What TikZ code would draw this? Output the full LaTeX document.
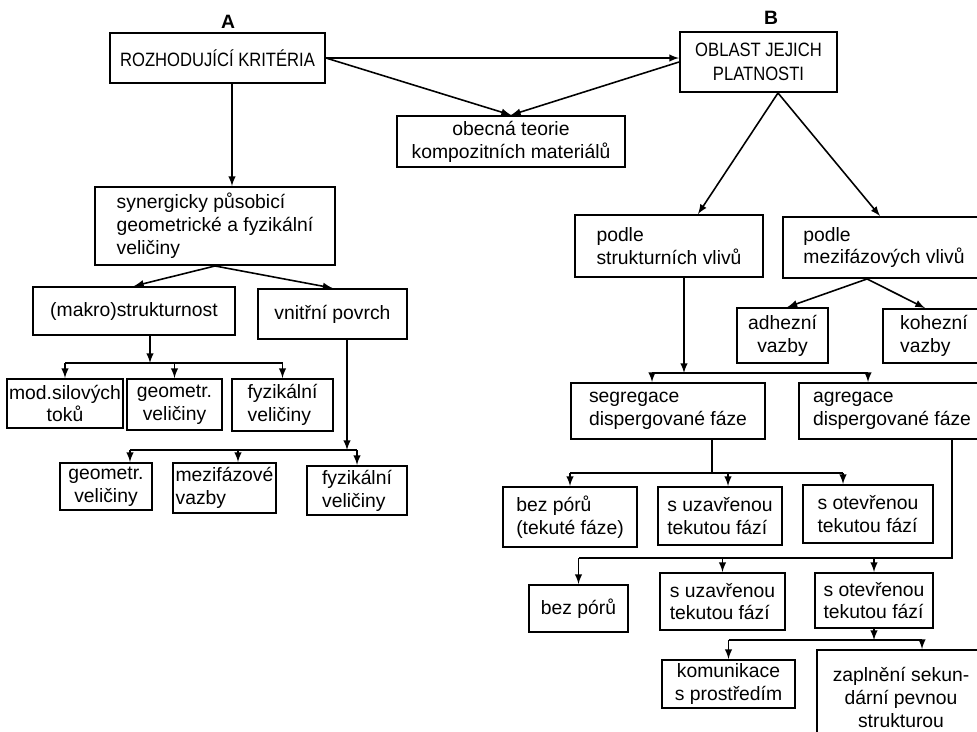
\documentclass[tikz,border=0pt]{standalone}
\usepackage{fontspec}
\setmainfont{Liberation Sans}
\newfontfamily\narrowcaps{Liberation Sans}[FakeStretch=0.86]
\usetikzlibrary{arrows}

\begin{document}
\begin{tikzpicture}[
		x=0.02cm, y=-0.02cm,
		>=latex,
		line width=0.9pt,
		every node/.style={font=\fontsize{11}{13}\selectfont},
		box/.style 2 args={draw, line width=1.1pt, minimum width=#1*0.02cm, minimum height=#2*0.02cm, inner sep=1pt},
		caps/.style={font=\fontsize{11}{14}\narrowcaps},
		head/.style={font=\fontsize{11}{13}\selectfont\bfseries},
		lft/.style={align=left},
		ctr/.style={align=center},
		arr/.style={->}
		]

	\useasboundingbox (0,0) rectangle (977,731);
	\clip (0,0) rectangle (977,731);

	% Headings
	\node[head] (labA) at (228,22) {A};
	\node[head] (labB) at (771,18) {B};

	% Top row
	\node[box={215}{50}, caps] (roz) at (217.5,58) {ROZHODUJÍCÍ KRITÉRIA};
	\node[box={157}{60}, caps, ctr] (obl) at (758.5,62) {OBLAST JEJICH\\PLATNOSTI};
	\node[box={228}{51}, ctr] (obec) at (511,141.5) {obecná teorie\\kompozitních materiálů};

	% Branch A
	\node[box={240}{78}, lft] (syn) at (215,226) {synergicky působicí\\geometrické a fyzikální\\veličiny};
	\node[box={202}{48}] (mak) at (134,311) {(makro)strukturnost};
	\node[box={149}{50}] (vni) at (332.5,314) {vnitřní povrch};

	\node[box={104}{49}, ctr] (mod) at (65,403.5) {mod.silových\\toků};
	\node[box={95}{51}, ctr] (geo1) at (174.5,404.5) {geometr.\\veličiny};
	\node[box={101}{52}, lft] (fyz1) at (282.5,405) {fyzikální\\veličiny};

	\node[box={92}{47}, ctr] (geo2) at (106,486.5) {geometr.\\veličiny};
	\node[box={103}{50}, lft] (mez) at (224.5,488) {mezifázové\\vazby};
	\node[box={100}{49}, lft] (fyz2) at (357,490.5) {fyzikální\\veličiny};

	% Branch B
	\node[box={188}{62}, lft] (pstr) at (669,246) {podle\\strukturních vlivů};
	\node[box={202}{61}, lft] (pmez) at (884,247.5) {podle\\mezifázových vlivů};

	\node[box={91}{55}, ctr] (adh) at (782.5,335.5) {adhezní\\vazby};
	\node[box={102}{54}, lft] (koh) at (934,336) {kohezní\\vazby};

	\node[box={194}{56}, lft] (seg) at (668,411) {segregace\\dispergované fáze};
	\node[box={186}{56}, lft] (agr) at (892,411) {agregace\\dispergované fáze};

	\node[box={134}{60}, lft] (bez1) at (570,517) {bez pórů\\(tekuté fáze)};
	\node[box={124}{58}, lft] (suz1) at (720,516) {s uzavřenou\\tekutou fází};
	\node[box={130}{58}, lft] (sot1) at (868,514) {s otevřenou\\tekutou fází};

	\node[box={99}{47}] (bez2) at (578.5,608.5) {bez pórů};
	\node[box={125}{57}, lft] (suz2) at (722.5,601.5) {s uzavřenou\\tekutou fází};
	\node[box={118}{55}, lft] (sot2) at (874,600.5) {s otevřenou\\tekutou fází};

	\node[box={133}{48}, ctr] (kom) at (728.5,684) {komunikace\\s prostředím};
	\node[box={168}{95}, ctr] (zap) at (901,697.5) {zaplnění sekun-\\dární pevnou\\strukturou};

	% Top connectors
	\draw[arr] (roz.east) -- (roz.east -| obl.west);
	\draw[arr] (roz.east) -- (obec.north);
	\draw[arr] (obl.west) -- (obec.north);
	\draw[arr] ([xshift=.29cm]roz.south) -- ([xshift=.29cm]roz.south |- syn.north);

	% Connectors A
	\draw[arr] (syn.south) -- (mak.north);
	\draw[arr] (syn.south) -- (vni.north);

	\coordinate (barA1) at (0,363);
	\draw[arr] ([xshift=.32cm]mak.south) -- ([xshift=.32cm]mak.south |- barA1);
	\draw (mod.north |- barA1) -- (fyz1.north |- barA1);
	\foreach \n in {mod, geo1, fyz1}{
		\draw[arr] (\n.north |- barA1) -- (\n.north);
	}

	\coordinate (barA2) at (0,450);
	\draw[arr] ([xshift=.29cm]vni.south) -- ([xshift=.29cm]vni.south |- barA2);
	\draw ([xshift=.48cm]geo2.north |- barA2) -- (fyz2.north |- barA2);
	\foreach \n/\s in {geo2/.48cm, mez/.27cm, fyz2/0cm}{
		\draw[arr] ([xshift=\s]\n.north |- barA2) -- ([xshift=\s]\n.north);
	}

	% Connectors B
	\draw[arr] ([xshift=.39cm]obl.south) -- ([xshift=.58cm]pstr.north);
	\draw[arr] ([xshift=.39cm]obl.south) -- ([xshift=-.08cm]pmez.north);
	\draw[arr] ([xshift=-.34cm]pmez.south) -- ([xshift=.1cm]adh.north);
	\draw[arr] ([xshift=-.34cm]pmez.south) -- ([xshift=-.18cm]koh.north);

	\coordinate (barB1) at (0,373);
	\draw[arr] ([xshift=.3cm]pstr.south) -- ([xshift=.3cm]pstr.south |- barB1);
	\draw ([xshift=-.32cm]seg.north |- barB1) -- ([xshift=-.48cm]agr.north |- barB1);
	\foreach \n/\s in {seg/-.32cm, agr/-.48cm}{
		\draw[arr] ([xshift=\s]\n.north |- barB1) -- ([xshift=\s]\n.north);
	}

	\coordinate (barB2) at (0,473);
	\draw ([xshift=.88cm]seg.south) -- ([xshift=.88cm]seg.south |- barB2);
	\draw (bez1.north |- barB2) -- ([xshift=-.5cm]sot1.north |- barB2);
	\foreach \n/\s in {bez1/0cm, suz1/.16cm, sot1/-.5cm}{
		\draw[arr] ([xshift=\s]\n.north |- barB2) -- ([xshift=\s]\n.north);
	}

	\coordinate (barB3) at (0,558);
	\draw ([xshift=1.2cm]agr.south) |- (bez2.north |- barB3);
	\foreach \n in {bez2, suz2, sot2}{
		\draw[arr] (\n.north |- barB3) -- (\n.north);
	}

	\coordinate (barB4) at (0,640);
	\draw[arr] (sot2.south) -- (sot2.south |- barB4);
	\draw (kom.north |- barB4) -- ([xshift=.42cm]zap.north |- barB4);
	\draw[arr] (kom.north |- barB4) -- (kom.north);
	\draw[arr] ([xshift=.42cm]zap.north |- barB4) -- ([xshift=.42cm]zap.north);

\end{tikzpicture}
\end{document}
